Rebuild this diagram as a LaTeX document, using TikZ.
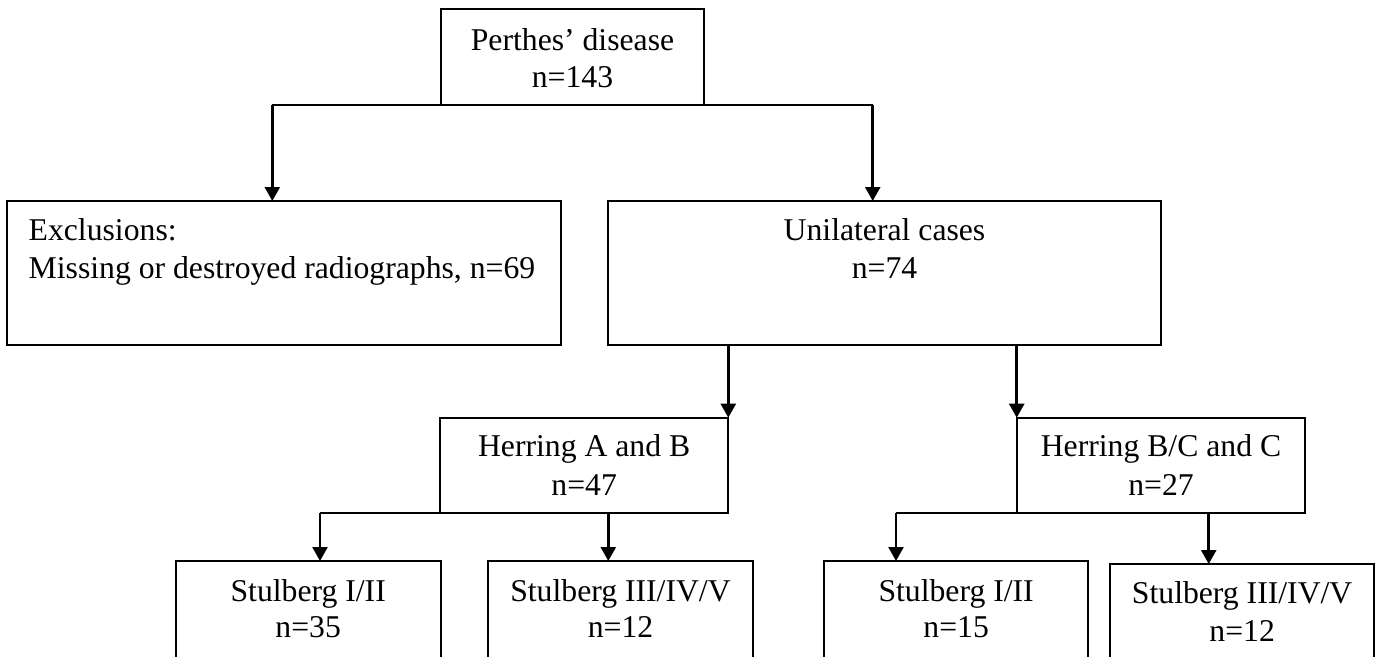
\documentclass[tikz,border=0pt]{standalone}
\usepackage{fontspec}
\setmainfont{Liberation Serif}
\usetikzlibrary{arrows.meta}
\begin{document}
\begin{tikzpicture}[x=1pt,y=-1pt,
  box/.style={draw=black, line width=1.8pt, inner sep=0pt, outer sep=0pt, rectangle},
  txt/.style={inner sep=0pt, outer sep=0pt, anchor=base, font=\fontsize{31.7}{37.5}\selectfont},
  txtl/.style={txt, anchor=base west},
  hl/.style={line width=1.8pt},
  arr/.style={line width=2.5pt, -{Triangle[length=14pt,width=15pt]}}]
\useasboundingbox (0,0) rectangle (1383,656);
\clip (0,0) rectangle (1383,656);
% boxes
\node[box, minimum width=263.6pt, minimum height=96pt] (per) at (572.5,57.3) {};
\node[box, minimum width=553.4pt, minimum height=144pt] (excl) at (284,273) {};
\node[box, minimum width=552.4pt, minimum height=144pt] (uni) at (884.5,273) {};
\node[box, minimum width=288.3pt, minimum height=95.6pt] (hab) at (584.15,465.5) {};
\node[box, minimum width=288.6pt, minimum height=95.6pt] (hbc) at (1161,465.5) {};
\node[box, minimum width=265pt, minimum height=139pt] (s1) at (308.2,630.5) {};
\node[box, minimum width=264.4pt, minimum height=139pt] (s2) at (620.5,630.5) {};
\node[box, minimum width=264.3pt, minimum height=139pt] (s3) at (956.15,630.5) {};
\node[box, minimum width=263.7pt, minimum height=136pt] (s4) at (1242.15,632) {};
% texts
\node[txt] (perA) at (572.5,50) {Perthes’ disease};
\node[txt] (perB) at (572.5,87.3) {n=143};
\node[txtl] (exA) at (28.7,240.7) {Exclusions:};
\node[txtl] (exB) at (28.7,278.3) {Missing or destroyed radiographs, n=69};
\node[txt] (uniA) at (884.5,240.7) {Unilateral cases};
\node[txt] (uniB) at (884.5,278.3) {n=74};
\node[txt] (habA) at (584.15,456.7) {Herring A and B};
\node[txt] (habB) at (584.15,495) {n=47};
\node[txt] (hbcA) at (1161,456.7) {Herring B/C and C};
\node[txt] (hbcB) at (1161,495) {n=27};
\node[txt] (s1A) at (308.2,601) {Stulberg I/II};
\node[txt] (s1B) at (308.2,637) {n=35};
\node[txt] (s2A) at (620.5,601) {Stulberg III/IV/V};
\node[txt] (s2B) at (620.5,637) {n=12};
\node[txt] (s3A) at (956.15,601) {Stulberg I/II};
\node[txt] (s3B) at (956.15,637.5) {n=15};
\node[txt] (s4A) at (1242.15,603.3) {Stulberg III/IV/V};
\node[txt] (s4B) at (1242.15,641.7) {n=12};
% arrow targets
\coordinate (t1) at (272.3,201);
\coordinate (t2) at (872.7,201);
\coordinate (t3) at (320,561);
\coordinate (t4) at (608.3,561);
\coordinate (t5) at (896,561);
\coordinate (t6) at (1208.7,564);
% connectors
\draw[hl] (t1 |- per.south) -- (t2 |- per.south);
\draw[arr] (t1 |- per.south) -- (t1);
\draw[arr] (t2 |- per.south) -- (t2);
\draw[arr] (hab.north east |- uni.south) -- (hab.north east);
\draw[arr] (hbc.north west |- uni.south) -- (hbc.north west);
\draw[hl] (t3 |- hab.south) -- (hab.south west);
\draw[arr] (t3 |- hab.south) -- (t3);
\draw[arr] (t4 |- hab.south) -- (t4);
\draw[hl] (t5 |- hbc.south) -- (hbc.south west);
\draw[arr] (t5 |- hbc.south) -- (t5);
\draw[arr] (t6 |- hbc.south) -- (t6);
\end{tikzpicture}
\end{document}
